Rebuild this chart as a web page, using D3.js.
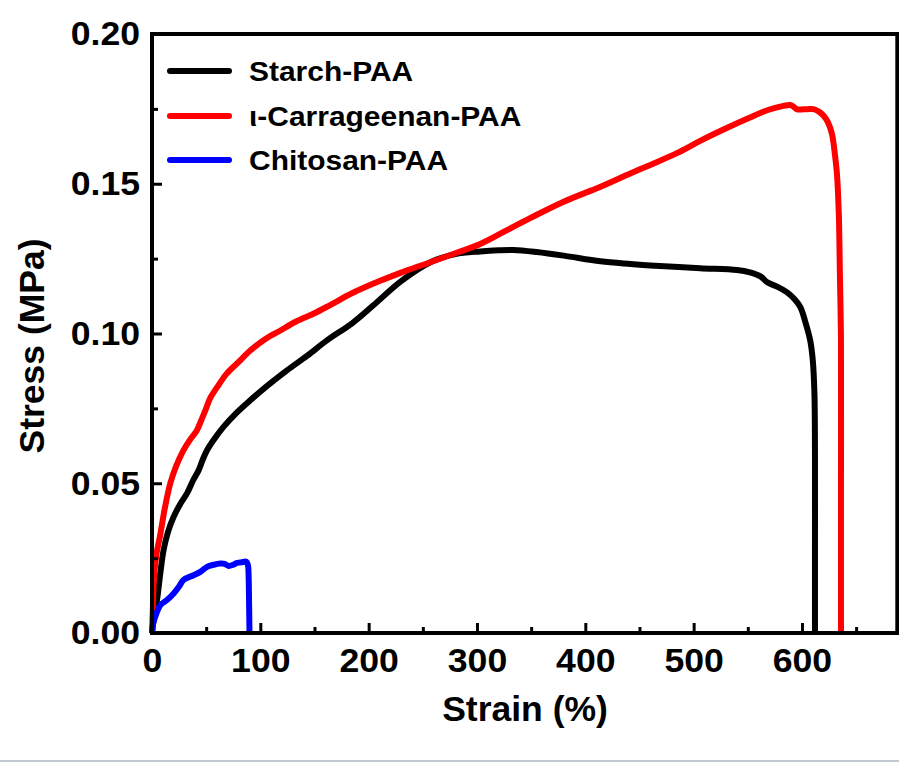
<!DOCTYPE html>
<html>
<head>
<meta charset="utf-8">
<script src="https://cdn.jsdelivr.net/npm/d3@7"></script>
<style>
  html, body { margin: 0; padding: 0; background: #fff; }
  svg { display: block; }
  text { font-family: "Liberation Sans", Arial, Helvetica, sans-serif; font-weight: bold; fill: #000; }
</style>
</head>
<body>
<svg id="chart" width="899" height="764"></svg>
<script>
// ---- data ----
const seriesNames = ["Starch-PAA", "\u03B9-Carrageenan-PAA", "Chitosan-PAA"];
const seriesColors = ["#000000", "#ff0000", "#0000ff"];

const starchStrain = [0, 2, 4.6, 7.7, 10.7, 15, 20, 26, 32.3, 38, 43, 47, 50.8, 58, 66, 78, 90.7, 108, 124.6, 143, 161.5, 185, 204.6, 230, 257, 280, 303, 320, 334, 355, 380, 414, 442, 460, 506, 540, 552, 562, 568, 578, 586, 593, 598.5, 603, 607.6, 610, 611.5, 612, 612, 612];
const starchStress = [0, 0.006, 0.011, 0.02, 0.0277, 0.034, 0.0388, 0.043, 0.0466, 0.051, 0.0543, 0.058, 0.061, 0.065, 0.0688, 0.0735, 0.0777, 0.083, 0.0877, 0.0925, 0.0977, 0.1035, 0.1095, 0.1175, 0.1238, 0.1265, 0.1274, 0.1278, 0.1279, 0.1272, 0.126, 0.1241, 0.1232, 0.1227, 0.1218, 0.1212, 0.1204, 0.119, 0.1171, 0.1155, 0.1138, 0.1115, 0.1088, 0.104, 0.0977, 0.091, 0.08, 0.06, 0.03, 0];

const carrStrain = [0, 0.8, 1.5, 4, 7.7, 12, 16.9, 22, 29, 35, 41.5, 46, 50, 53.8, 60, 69, 80, 90.7, 104, 118.5, 133, 149, 164.5, 185, 210, 235, 257, 280, 303, 325, 349, 380, 414, 442, 460, 485, 506, 530, 552, 570, 583, 589, 592, 595, 605, 610.5, 616, 620, 624, 627.7, 630, 632.3, 634, 635, 636, 636, 636];
const carrStress = [0, 0.008, 0.0166, 0.026, 0.033, 0.042, 0.05, 0.0555, 0.061, 0.0645, 0.0677, 0.0715, 0.075, 0.0785, 0.082, 0.0866, 0.0905, 0.0943, 0.098, 0.101, 0.104, 0.1066, 0.1095, 0.1135, 0.1175, 0.121, 0.1238, 0.1268, 0.1299, 0.134, 0.1385, 0.144, 0.149, 0.1535, 0.1563, 0.1603, 0.1643, 0.1685, 0.1721, 0.1748, 0.176, 0.1763, 0.1758, 0.1749, 0.1749, 0.1749, 0.174, 0.1727, 0.1705, 0.1666, 0.161, 0.1532, 0.14, 0.12, 0.0977, 0.05, 0];

const chitoStrain = [0, 1, 3, 7.7, 13.8, 20, 25, 29, 38.4, 45, 50.8, 57, 63, 67, 70.7, 75, 78.5, 84, 87, 88.5, 89.2, 89.6, 90];
const chitoStress = [0, 0.003, 0.0054, 0.0093, 0.011, 0.0132, 0.0155, 0.0177, 0.0193, 0.0205, 0.0221, 0.0228, 0.0232, 0.0231, 0.0224, 0.0228, 0.0234, 0.0237, 0.0238, 0.0228, 0.0188, 0.01, 0];

const xMajorTicks = [0, 100, 200, 300, 400, 500, 600];
const xMinorTicks = [50, 150, 250, 350, 450, 550, 650];
const yMajorTicks = [0, 0.05, 0.10, 0.15, 0.20];
const yMinorTicks = [0.025, 0.075, 0.125, 0.175];
const xTitle = "Strain (%)";
const yTitle = "Stress (MPa)";

// ---- layout ----
const svg = d3.select("#chart");
const x = d3.scaleLinear().domain([0, 688]).range([152, 897.3]);
const y = d3.scaleLinear().domain([0, 0.2]).range([633, 34]);

const series = [
  { name: seriesNames[0], color: seriesColors[0], pts: d3.zip(starchStrain, starchStress) },
  { name: seriesNames[1], color: seriesColors[1], pts: d3.zip(carrStrain, carrStress) },
  { name: seriesNames[2], color: seriesColors[2], pts: d3.zip(chitoStrain, chitoStress) }
];

// screenshot border line at the bottom
svg.append("line").attr("x1", 0).attr("x2", 899).attr("y1", 761).attr("y2", 761)
  .attr("stroke", "#c3c9d2").attr("stroke-width", 2);

const line = d3.line().x(d => x(d[0])).y(d => y(d[1])).curve(d3.curveCatmullRom.alpha(0.5));

const plot = svg.append("g");
plot.selectAll("path.series").data(series).join("path")
  .attr("class", "series")
  .attr("d", d => line(d.pts))
  .attr("fill", "none")
  .attr("stroke", d => d.color)
  .attr("stroke-width", 6)
  .attr("stroke-linejoin", "round")
  .attr("stroke-linecap", "butt");

const TICK_SX = 1.08;

// axes (ticks pointing inward)
const xAxis = svg.append("g").attr("transform", `translate(0,${y(0)})`)
  .call(d3.axisBottom(x).tickValues(xMajorTicks).tickFormat(d3.format("d")).tickSizeInner(-10).tickSizeOuter(0));
xAxis.select(".domain").remove();
xAxis.selectAll(".tick line").attr("stroke", "#000").attr("stroke-width", 3);
xAxis.selectAll(".tick text").attr("font-size", 33).attr("y", 0).attr("dy", 39)
  .attr("transform", `scale(${TICK_SX},1)`)
  .style("font-family", '"Liberation Sans", Arial, sans-serif').style("font-weight", "bold");

const xMinor = svg.append("g").attr("transform", `translate(0,${y(0)})`)
  .call(d3.axisBottom(x).tickValues(xMinorTicks).tickFormat("").tickSizeInner(-6).tickSizeOuter(0));
xMinor.select(".domain").remove();
xMinor.selectAll(".tick line").attr("stroke", "#000").attr("stroke-width", 3);

const yAxis = svg.append("g").attr("transform", `translate(${x(0)},0)`)
  .call(d3.axisLeft(y).tickValues(yMajorTicks).tickFormat(d3.format(".2f")).tickSizeInner(-10).tickSizeOuter(0));
yAxis.select(".domain").remove();
yAxis.selectAll(".tick line").attr("stroke", "#000").attr("stroke-width", 3);
yAxis.selectAll(".tick text").attr("font-size", 33).attr("x", -12 / TICK_SX).attr("dy", "0.33em")
  .attr("transform", `scale(${TICK_SX},1)`)
  .style("font-family", '"Liberation Sans", Arial, sans-serif').style("font-weight", "bold");

const yMinor = svg.append("g").attr("transform", `translate(${x(0)},0)`)
  .call(d3.axisLeft(y).tickValues(yMinorTicks).tickFormat("").tickSizeInner(-6).tickSizeOuter(0));
yMinor.select(".domain").remove();
yMinor.selectAll(".tick line").attr("stroke", "#000").attr("stroke-width", 3);

// frame
svg.append("rect")
  .attr("x", x(0)).attr("y", y(0.2))
  .attr("width", x(688) - x(0)).attr("height", y(0) - y(0.2))
  .attr("fill", "none").attr("stroke", "#000").attr("stroke-width", 4);

// axis titles
svg.append("text").attr("x", 525).attr("y", 721).attr("text-anchor", "middle")
  .attr("font-size", 35.5).text(xTitle);
svg.append("text").attr("transform", "translate(44,346) rotate(-90)").attr("text-anchor", "middle")
  .attr("font-size", 35.5).text(yTitle);

// legend
const legY = [71, 116, 160];
const leg = svg.append("g");
series.forEach((s, i) => {
  leg.append("line").attr("x1", 170).attr("x2", 229).attr("y1", legY[i]).attr("y2", legY[i])
    .attr("stroke", s.color).attr("stroke-width", 6).attr("stroke-linecap", "round");
  leg.append("text").attr("transform", `translate(249,${legY[i] + 10}) scale(1.07,1)`)
    .attr("font-size", 28).text(s.name);
});
</script>
</body>
</html>
